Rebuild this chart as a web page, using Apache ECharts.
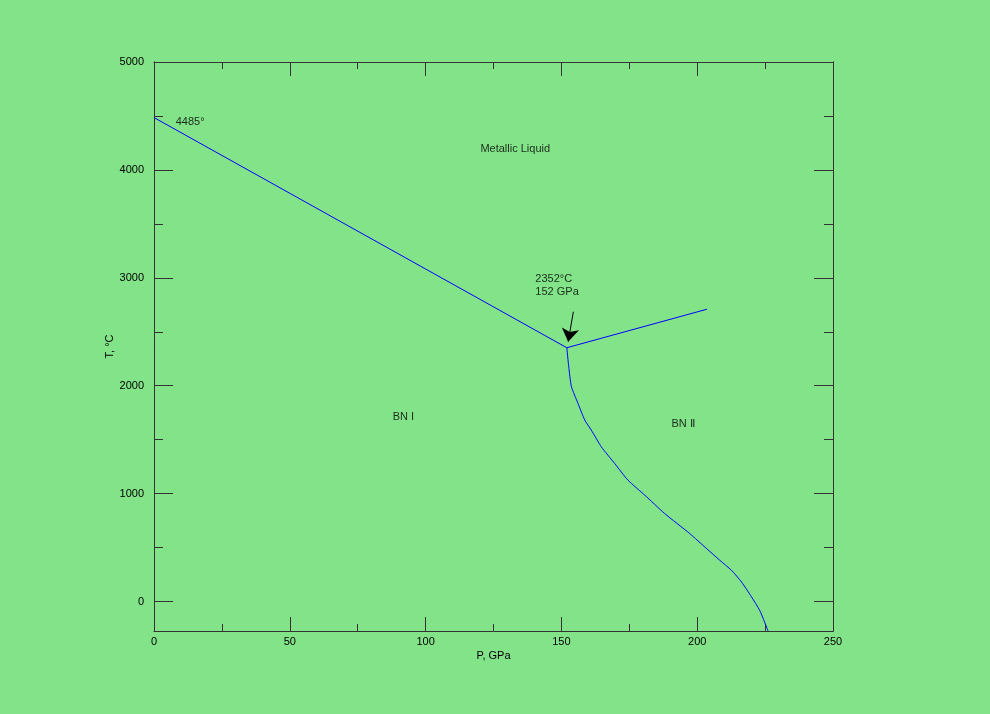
<!DOCTYPE html>
<html>
<head>
<meta charset="utf-8">
<script src="https://cdn.jsdelivr.net/npm/echarts@6/dist/echarts.min.js"></script>
<style>
  html, body { margin: 0; padding: 0; background: #83e389; }
  #chart { width: 990px; height: 714px; }
</style>
</head>
<body>
<div id="chart"></div>
<script>
// phase boundaries, [P GPa, T °C]
const meltBN1 = [[0, 4485], [152, 2352]]
const meltBN2 = [[152, 2352], [203.6, 2709]]
const bn1bn2 = [
  [152, 2352], [152.7, 2176], [153.7, 1991], [156.1, 1837], [158.6, 1682],
  [161.0, 1589], [164.7, 1434], [169.6, 1280], [174.5, 1125], [180.7, 986],
  [188.0, 816], [197.2, 631], [203.4, 492], [208.3, 383], [212.6, 290],
  [216.3, 182], [220.0, 43], [223.0, -81], [224.8, -189], [226.1, -273]
]
// arrow pointing to triple point
const arrowFrom = [154.4, 2686]
const arrowTo = [152.5, 2408]

// text labels [P, T, text, align]
const labels = [
  [8.0, 4440, '4485°', 'left'],
  [133.0, 4196, 'Metallic Liquid', 'center'],
  [140.4, 2930, '2352°C\n152 GPa', 'left'],
  [91.8, 1712, 'BN I', 'center'],
  [194.8, 1647, 'BN Ⅱ', 'center']
]

const yMajor = [0, 1000, 2000, 3000, 4000, 5000]
const yMinor = [500, 1500, 2500, 3500, 4500]

let chart = echarts.init(document.getElementById('chart'), null, {renderer: 'canvas'})

const font = 'Liberation Sans, Arial, sans-serif'
const axisCol = '#333333'

function yAx(pos, ticks, len, showLabel) {
  return {
    type: 'value',
    position: pos,
    min: -273,
    max: 5000,
    axisLine: {show: true, onZero: false, lineStyle: {color: axisCol, width: 1}},
    axisTick: {show: true, inside: true, length: len, customValues: ticks, lineStyle: {color: axisCol}},
    axisLabel: {
      show: showLabel, customValues: ticks, color: '#000', fontFamily: font, fontSize: 11, margin: 10,
      formatter: v => String(v)
    },
    splitLine: {show: false}
  }
}

function xAx(pos, showLabel) {
  return {
    type: 'value', position: pos, min: 0, max: 250, interval: 50,
    axisLine: {show: true, onZero: false, lineStyle: {color: axisCol}},
    axisTick: {show: true, inside: true, length: 14, lineStyle: {color: axisCol}},
    minorTick: {show: true, splitNumber: 2, length: 7, lineStyle: {color: axisCol}},
    axisLabel: {show: showLabel, color: '#000', fontFamily: font, fontSize: 11, margin: 5},
    splitLine: {show: false}
  }
}

let option = {
  backgroundColor: '#83e389',
  animation: false,
  grid: {left: 154, right: 157, top: 62, bottom: 83},
  xAxis: [
    Object.assign(xAx('bottom', true), {
      name: 'P, GPa', nameLocation: 'middle', nameGap: 19, nameMoveOverlap: false,
      nameTextStyle: {color: '#000', fontFamily: font, fontSize: 11}
    }),
    xAx('top', false)
  ],
  yAxis: [
    Object.assign(yAx('left', yMajor, 19, true), {
      name: 'T, °C', nameLocation: 'middle', nameGap: 39, nameRotate: 90, nameMoveOverlap: false,
      nameTextStyle: {color: '#000', fontFamily: font, fontSize: 11}
    }),
    yAx('left', yMinor, 9, false),
    yAx('right', yMajor, 19, false),
    yAx('right', yMinor, 9, false)
  ],
  series: [
    {
      type: 'line', data: meltBN1, showSymbol: false, symbol: 'none',
      lineStyle: {color: '#0000ff', width: 1}
    },
    {
      type: 'line', data: meltBN2, showSymbol: false, symbol: 'none',
      lineStyle: {color: '#0000ff', width: 1}
    },
    {
      type: 'line', data: bn1bn2, showSymbol: false, symbol: 'none', smooth: 0.2,
      lineStyle: {color: '#0000ff', width: 1}
    },
    {
      type: 'lines', coordinateSystem: 'cartesian2d', silent: true,
      symbol: ['none', 'arrow'], symbolSize: [8, 13],
      lineStyle: {color: '#000', width: 1, opacity: 1},
      data: [{coords: [arrowFrom, arrowTo]}]
    },
    {
      type: 'scatter', symbolSize: 0, silent: true,
      data: labels.map(l => ({
        value: [l[0], l[1]],
        label: {
          show: true, formatter: l[2], position: 'inside', align: l[3],
          verticalAlign: 'middle', color: '#000', fontFamily: font, fontSize: 11, lineHeight: 13
        }
      }))
    }
  ]
}

chart.setOption(option)
</script>
</body>
</html>
